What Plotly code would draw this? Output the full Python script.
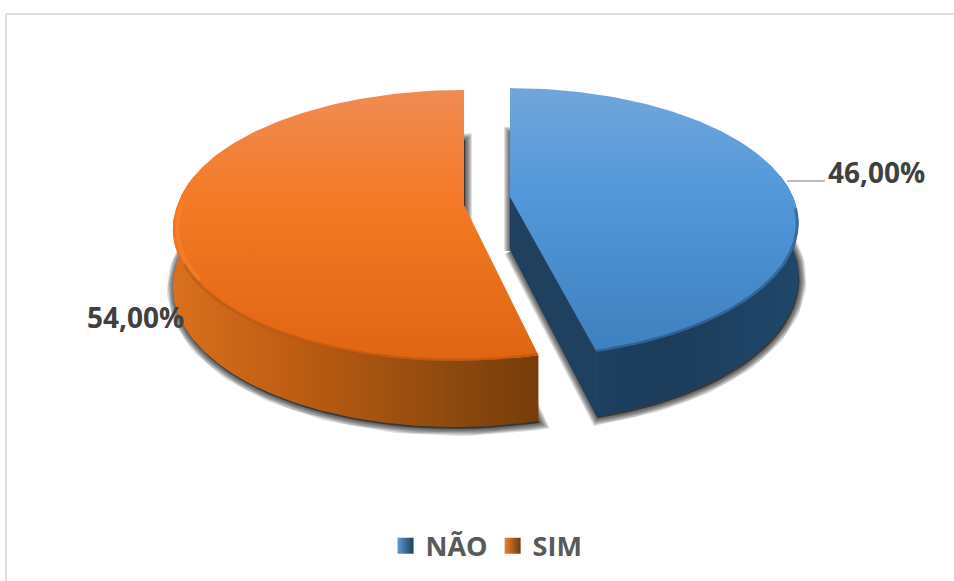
import numpy as np
import plotly.graph_objects as go

# ---- data ----
categories = ["NÃO", "SIM"]
values = [46.0, 54.0]
label_text = ["46,00%", "54,00%"]

# ---- styling / projection constants (pixels of the 954x581 canvas) ----
W, H = 954, 581
SLICES = {
    "NÃO": dict(cx=510, cy=197, R=283, Ry=130, k=0.194, skew=0.0, D=52),
    "SIM": dict(cx=464, cy=205, R=286.5, Ry=132.4, k=0.151, skew=0.06, D=56),
}
TOP_GRAD = {
    "NÃO": [[0, "#72A5DA"], [0.4, "#5298DA"], [1, "#3F80BE"]],
    "SIM": [[0, "#EE8C55"], [0.4, "#F47A25"], [1, "#DF6513"]],
}
WALL_GRAD = {
    "NÃO": [[0, "#1D3F60"], [0.35, "#1C3C5C"], [1, "#1F4769"]],
    "SIM": [[0, "#D9701E"], [0.35, "#BC5C12"], [0.75, "#8E4A0E"], [1, "#773C09"]],
}
CUT_COLOR = {"NÃO": "#20405F", "SIM": "#773C09"}
RIM_COLOR = {"NÃO": "rgba(20,50,85,0.4)", "SIM": "rgba(150,70,10,0.35)"}
TEXT_COLOR = "#404040"
FONT = "'Open Sans', Lato, sans-serif"


def proj(name, theta, r=1.0, z=0.0):
    p = SLICES[name]
    t = np.radians(theta)
    u, v = r * np.sin(t), r * np.cos(t)
    s = 1 / (1 + p["k"] * v)
    x = p["cx"] + p["R"] * u * s + p["skew"] * p["Ry"] * np.minimum(v, 0) * s
    y = p["cy"] - p["Ry"] * v * s + z * s
    return x, y


def outline(name, a, b, z=0.0):
    th = np.linspace(a, b, 160)
    x, y = proj(name, th, 1.0, z)
    ax, ay = proj(name, 0.0, 0.0, z)
    return np.r_[ax, x, ax], np.r_[ay, y, ay]


# slice angles come from the values, clockwise from 12 o'clock
total = sum(values)
angles = {}
start = 0.0
for c, val in zip(categories, values):
    angles[c] = (start, start + 360 * val / total)
    start += 360 * val / total

fig = go.Figure()


def poly(x, y, **kw):
    fig.add_trace(go.Scatter(x=x, y=y, mode="lines", fill="toself", showlegend=False,
                             hoverinfo="skip", **kw))


# soft shadows
for c in categories:
    a, b = angles[c]
    D = SLICES[c]["D"]
    x, y = outline(c, a, b, D)
    for w in [14, 12, 10, 8, 6, 4, 2]:
        poly(x + 1, y + 2, line=dict(color="rgba(30,30,30,0.14)", width=w),
             fillcolor="rgba(30,30,30,0.14)")

# walls and tops
for c in categories:
    a, b = angles[c]
    D = SLICES[c]["D"]
    # cut face (only the first slice shows its cut)
    if c == "NÃO":
        ex, ey = proj(c, b)
        ax, ay = proj(c, 0.0, 0.0)
        fx, fy = proj(c, b, 1.0, D)
        gx, gy = proj(c, 0.0, 0.0, D)
        poly([ax, ex, fx, gx, ax], [ay, ey, fy, gy, ay],
             line=dict(color=CUT_COLOR[c], width=0.5), fillcolor=CUT_COLOR[c])
    # outer wall, front-facing part
    w0, w1 = max(a, 80), min(b, 280)
    th = np.linspace(w0, w1, 160)
    x1, y1 = proj(c, th)
    x2, y2 = proj(c, th, 1.0, D)
    wx, wy = np.r_[x1, x2[::-1]], np.r_[y1, y2[::-1]]
    poly(wx, wy, line=dict(width=0),
         fillgradient=dict(type="horizontal", colorscale=WALL_GRAD[c],
                           start=float(wx.min()), stop=float(wx.max())))
    # top face
    x, y = outline(c, a, b)
    poly(x, y, line=dict(width=0),
         fillgradient=dict(type="vertical", colorscale=TOP_GRAD[c],
                           start=float(y.min()), stop=float(y.max())))
    # bevel shading along the front rim
    rth = np.linspace(max(a, 95), min(b, 245), 120)
    rx, ry = proj(c, rth, 0.996)
    fig.add_trace(go.Scatter(x=rx, y=ry, mode="lines", showlegend=False, hoverinfo="skip",
                             line=dict(color=RIM_COLOR[c], width=3)))

# bevel highlight on the left of the orange slice
hx, hy = proj("SIM", np.linspace(238, 272, 40), 0.985)
fig.add_trace(go.Scatter(x=hx, y=hy, mode="lines", showlegend=False, hoverinfo="skip",
                         line=dict(color="rgba(255,150,70,0.3)", width=4)))

# legend entries
LEG = {"NÃO": ("#5B9BD5", "#1E3F5E"), "SIM": ("#ED8033", "#6E3A0C")}
for c in categories:
    fig.add_trace(go.Scatter(x=[None], y=[None], mode="markers", name=c,
                             marker=dict(symbol="square", size=18, color=LEG[c][0],
                                         gradient=dict(type="horizontal", color=LEG[c][1]),
                                         line=dict(width=0))))

# leader line
fig.add_shape(type="line", x0=787, x1=825, y0=181, y1=181, line=dict(color="#A6A6A6", width=1.5))
# chart frame
fig.add_shape(type="line", x0=6, x1=W, y0=14, y1=14, line=dict(color="#DEDEDE", width=2))
fig.add_shape(type="line", x0=6, x1=6, y0=14, y1=H, line=dict(color="#DEDEDE", width=2))

fig.add_annotation(x=876, y=172, text="<b>%s</b>" % label_text[0], showarrow=False,
                   font=dict(family=FONT, size=28, color=TEXT_COLOR))
fig.add_annotation(x=135, y=317, text="<b>%s</b>" % label_text[1], showarrow=False,
                   font=dict(family=FONT, size=28, color=TEXT_COLOR))

fig.update_layout(
    width=W, height=H, margin=dict(l=0, r=0, t=0, b=0),
    paper_bgcolor="white", plot_bgcolor="white",
    xaxis=dict(range=[0, W], visible=False, fixedrange=True),
    yaxis=dict(range=[H, 0], visible=False, fixedrange=True),
    legend=dict(orientation="h", x=0.51, xanchor="center", y=0.06, yanchor="middle",
                font=dict(family=FONT, size=27, color="#595959", weight="bold"),
                itemwidth=30, tracegroupgap=0),
)
fig.write_html("out.html", post_script="document.body.style.margin='0';",
               config=dict(displayModeBar=False))
